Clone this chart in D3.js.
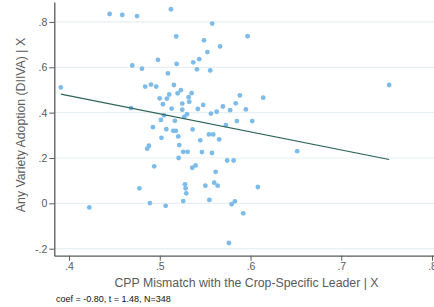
<!DOCTYPE html>
<html>
<head>
<meta charset="utf-8">
<script src="https://cdn.jsdelivr.net/npm/d3@7"></script>
<style>
  html, body { margin: 0; padding: 0; background: #fff; }
  svg { display: block; font-family: "Liberation Sans", Arial, Helvetica, sans-serif; }
</style>
</head>
<body>
<svg id="chart" width="434" height="307"></svg>
<script>
// ---- data ----
const xValues = [0.391,0.4448,0.4587,0.4749,0.5123,0.5578,0.5181,0.5968,0.5487,0.5665,
  0.5525,0.4980,0.5435,0.5369,0.5186,0.4697,0.4804,0.5410,0.5556,0.5090,
  0.4903,0.5156,0.4840,0.4961,0.7528,0.5233,0.5351,0.5105,0.5197,0.5318,
  0.4999,0.5079,0.5883,0.6140,0.5325,0.5248,0.5035,0.5479,0.5696,0.5837,
  0.5131,0.5248,0.4683,0.5419,0.5776,0.5949,0.5627,0.5564,0.5300,0.5270,
  0.5046,0.5013,0.5167,0.5850,0.6019,0.5729,0.4925,0.5072,0.5149,0.5178,
  0.5362,0.5542,0.5589,0.5204,0.5019,0.5446,0.5655,0.5215,0.4881,0.4862,
  0.6514,0.5259,0.5307,0.5465,0.5575,0.5208,0.5743,0.5814,0.4939,0.5395,
  0.5358,0.5616,0.5278,0.5285,0.5292,0.4776,0.5503,0.5600,0.5638,0.6081,
  0.5547,0.4892,0.5065,0.5259,0.5792,0.5828,0.4224,0.5920,0.5762];
const yValues = [0.511,0.835,0.831,0.826,0.856,0.793,0.736,0.737,0.719,0.692,
  0.667,0.633,0.636,0.622,0.615,0.608,0.594,0.591,0.586,0.573,
  0.524,0.522,0.515,0.515,0.522,0.499,0.486,0.480,0.485,0.468,
  0.463,0.462,0.476,0.466,0.448,0.440,0.437,0.434,0.427,0.441,
  0.418,0.413,0.420,0.416,0.411,0.414,0.404,0.396,0.393,0.381,
  0.388,0.368,0.364,0.363,0.363,0.345,0.336,0.327,0.320,0.320,
  0.326,0.304,0.304,0.295,0.289,0.278,0.282,0.257,0.254,0.241,
  0.230,0.227,0.227,0.226,0.222,0.200,0.189,0.189,0.163,0.167,
  0.157,0.139,0.084,0.066,0.044,0.066,0.078,0.091,0.078,0.072,
  0.015,0.001,-0.011,0.010,-0.004,0.009,-0.018,-0.044,-0.175];
const fitX = [0.391, 0.7528];
const fitY = [0.4815, 0.193];
const xTicks = [0.4, 0.5, 0.6, 0.7, 0.8];
const xTickLabels = [".4", ".5", ".6", ".7", ".8"];
const yTicks = [-0.2, 0, 0.2, 0.4, 0.6, 0.8];
const yTickLabels = ["-.2", "0", ".2", ".4", ".6", ".8"];
const xTitle = "CPP Mismatch with the Crop-Specific Leader | X";
const yTitle = "Any Variety Adoption (DIIVA) | X";
const note = "coef = -0.80, t = 1.48, N=348";

// ---- layout ----
const plotL = 54.3, plotR = 434, plotT = 2, plotB = 255.7;
const svg = d3.select("#chart");

const x = d3.scaleLinear().domain([0.3838, 0.8022]).range([plotL, plotR]);
const y = d3.scaleLinear().domain([-0.231, 0.888]).range([plotB, plotT]);

const grey = "#5a5a5a";

// gridlines
svg.append("g").selectAll("line").data(yTicks).join("line")
  .attr("x1", plotL).attr("x2", plotR)
  .attr("y1", d => y(d)).attr("y2", d => y(d))
  .attr("stroke", "#e6eff1").attr("stroke-width", 1.2);

// points
svg.append("g").selectAll("circle").data(xValues.map((v, i) => [v, yValues[i]])).join("circle")
  .attr("cx", d => x(d[0])).attr("cy", d => y(d[1])).attr("r", 2.4)
  .attr("fill", "#7dbbe9");

// fitted line
svg.append("path")
  .datum(fitX.map((v, i) => [v, fitY[i]]))
  .attr("d", d3.line().x(d => x(d[0])).y(d => y(d[1])))
  .attr("fill", "none").attr("stroke", "#2b6358").attr("stroke-width", 1.1);

// axes
const xAxis = d3.axisBottom(x).tickValues(xTicks).tickFormat((d, i) => xTickLabels[i])
  .tickSize(5).tickSizeOuter(0).tickPadding(2);
const gx = svg.append("g").attr("transform", `translate(0,${plotB})`).call(xAxis);
const yAxis = d3.axisLeft(y).tickValues(yTicks).tickFormat((d, i) => yTickLabels[i])
  .tickSize(5).tickSizeOuter(0).tickPadding(2);
const gy = svg.append("g").attr("transform", `translate(${plotL},0)`).call(yAxis);

[gx, gy].forEach(g => {
  g.select(".domain").attr("stroke", grey).attr("stroke-width", 1.3);
  g.selectAll(".tick line").attr("stroke", grey).attr("stroke-width", 1);
  g.selectAll(".tick text").attr("fill", grey).attr("font-size", 10.5)
    .attr("font-family", "Liberation Sans, Arial, sans-serif");
});

// titles
svg.append("text").attr("x", 246.5).attr("y", 287)
  .attr("text-anchor", "middle").attr("font-size", 12.3).attr("fill", grey)
  .text(xTitle);
svg.append("text").attr("transform", `translate(24.5,125) rotate(-90)`)
  .attr("text-anchor", "middle").attr("font-size", 12.3).attr("fill", grey)
  .text(yTitle);
svg.append("text").attr("x", 56).attr("y", 302)
  .attr("font-size", 9).attr("fill", "#111")
  .text(note);
</script>
</body>
</html>
